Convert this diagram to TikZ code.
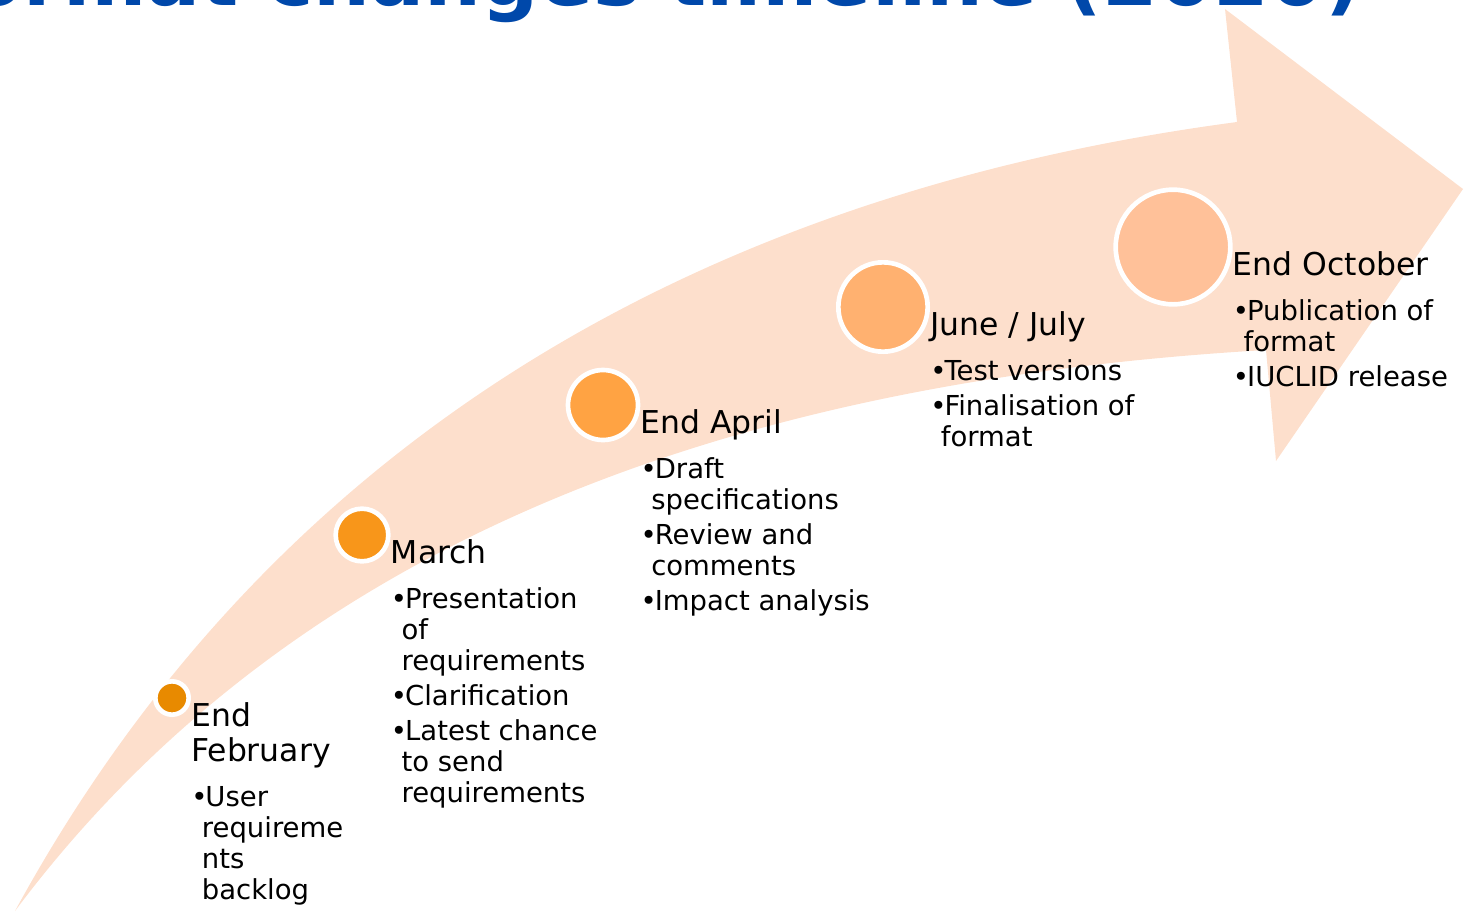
\documentclass[tikz,border=0pt]{standalone}
\usepackage{fontspec}
\setmainfont{DejaVu Sans}
\usetikzlibrary{positioning}
\definecolor{titleblue}{RGB}{0,72,170}
\definecolor{bandpeach}{RGB}{253,223,204}
\definecolor{febfill}{RGB}{232,138,0}
\definecolor{marfill}{RGB}{248,150,26}
\definecolor{aprfill}{RGB}{255,163,67}
\definecolor{junfill}{RGB}{255,177,112}
\definecolor{octfill}{RGB}{255,193,153}
\newcommand{\cnt}{\hspace*{8pt}}
\newcommand{\blt}{\textbullet\kern-1.5pt}
\newcommand{\tllines}[1]{\begin{tabular}[t]{@{}l@{}}#1\end{tabular}}

\begin{document}
\begin{tikzpicture}[x=0.75pt,y=-0.75pt]
        \tikzstyle{every node}=[inner sep=0pt]
        \tikzstyle{dot}=[circle, draw=white, line width=3.5pt]
        \tikzstyle{month}=[font=\fontsize{23.6}{26.25}\selectfont]
        \tikzstyle{tasks}=[font=\fontsize{20.6}{23.25}\selectfont]
        \useasboundingbox (0,0) rectangle (1466,911);
        \clip (0,0) rectangle (1466,911);
        \node [anchor=base east, font=\fontsize{60}{66}\bfseries, text=titleblue] (title) at (1362,5) {Format changes timeline (2020)};
        % the curved arrow
        \fill [bandpeach] (15,911) .. controls (250,480) and (650,200) .. (1237,122) -- (1225,9) -- (1463,189) -- (1276,461) -- (1266,350) .. controls (750,380) and (300,530) .. (15,911) -- cycle;
        % milestones
        \node [dot, fill=febfill, minimum size=25pt] (c1) at (172,698) {};
        \node [dot, fill=marfill, minimum size=39.5pt] (c2) at (362,535) {};
        \node [dot, fill=aprfill, minimum size=52.5pt] (c3) at (603,405) {};
        \node [dot, fill=junfill, minimum size=67pt] (c4) at (883,307) {};
        \node [dot, fill=octfill, minimum size=86pt] (c5) at (1173,247) {};
        \node [month, right=0pt of c1.east, anchor=base west, yshift=-21pt] (m1) {\tllines{End\\February}};
        \node [month, right=0pt of c2.east, anchor=base west, yshift=-21pt] (m2) {March};
        \node [month, right=0pt of c3.east, anchor=base west, yshift=-21pt] (m3) {End April};
        \node [month, right=0pt of c4.east, anchor=base west, yshift=-21pt] (m4) {June / July};
        \node [month, right=0pt of c5.east, anchor=base west, yshift=-21pt] (m5) {End October};
        \node [tasks, right=0pt of m1.base west, anchor=base west, yshift=-60pt] (t1) {\tllines{\blt User\\\cnt requireme\\\cnt nts\\\cnt backlog}};
        \node [tasks, right=0pt of m2.base west, anchor=base west, yshift=-33.75pt] (t2) {\tllines{\blt Presentation\\\cnt of\\\cnt requirements\\[3pt]\blt Clarification\\[3pt]\blt Latest chance\\\cnt to send\\\cnt requirements}};
        \node [tasks, right=0pt of m3.base west, anchor=base west, yshift=-33.75pt] (t3) {\tllines{\blt Draft\\\cnt specifications\\[3pt]\blt Review and\\\cnt comments\\[3pt]\blt Impact analysis}};
        \node [tasks, right=0pt of m4.base west, anchor=base west, yshift=-33.75pt] (t4) {\tllines{\blt Test versions\\[3pt]\blt Finalisation of\\\cnt format}};
        \node [tasks, right=0pt of m5.base west, anchor=base west, yshift=-33.75pt] (t5) {\tllines{\blt Publication of\\\cnt format\\[3pt]\blt IUCLID release}};
    \end{tikzpicture}
\end{document}
